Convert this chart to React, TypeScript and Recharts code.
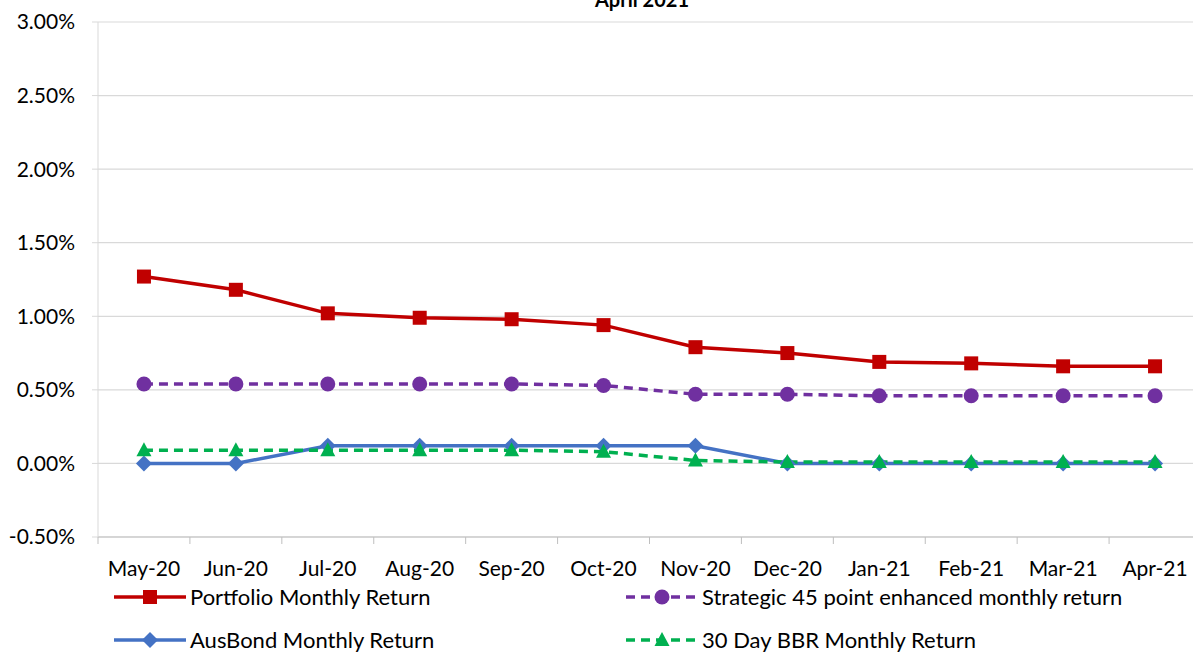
import React from "react";
import { LineChart, Line, XAxis, YAxis, CartesianGrid } from "recharts";

const months = ["May-20", "Jun-20", "Jul-20", "Aug-20", "Sep-20", "Oct-20", "Nov-20", "Dec-20", "Jan-21", "Feb-21", "Mar-21", "Apr-21"];
const portfolio = [1.27, 1.18, 1.02, 0.99, 0.98, 0.94, 0.79, 0.75, 0.69, 0.68, 0.66, 0.66];
const strategic = [0.54, 0.54, 0.54, 0.54, 0.54, 0.53, 0.47, 0.47, 0.46, 0.46, 0.46, 0.46];
const ausbond = [0, 0, 0.12, 0.12, 0.12, 0.12, 0.12, 0, 0, 0, 0, 0];
const bbr = [0.09, 0.09, 0.09, 0.09, 0.09, 0.08, 0.02, 0.01, 0.01, 0.01, 0.01, 0.01];
const yTicks = [-0.5, 0, 0.5, 1.0, 1.5, 2.0, 2.5, 3.0];

const SERIES = [
  { key: "portfolio", name: "Portfolio Monthly Return", color: "#C00000", dash: undefined, shape: "square" },
  { key: "strategic", name: "Strategic 45 point enhanced monthly return", color: "#7030A0", dash: "9 6", shape: "circle" },
  { key: "ausbond", name: "AusBond Monthly Return", color: "#4472C4", dash: undefined, shape: "diamond" },
  { key: "bbr", name: "30 Day BBR Monthly Return", color: "#00B050", dash: "9 6", shape: "triangle" },
];

const data = months.map((m, i) => ({
  month: m,
  portfolio: portfolio[i],
  strategic: strategic[i],
  ausbond: ausbond[i],
  bbr: bbr[i],
}));

const FONT = "Lato, 'Open Sans', sans-serif";
const CHART_W = 1201;
const CHART_H = 653;
const Y_W = 98;
const PLOT_W = CHART_W - Y_W;
const STEP = PLOT_W / months.length;

function marker(shape: string, cx: number, cy: number, color: string, key?: any) {
  if (shape === "square") return <rect key={key} x={cx - 7} y={cy - 7} width={14} height={14} fill={color} />;
  if (shape === "circle") return <circle key={key} cx={cx} cy={cy} r={7.5} fill={color} />;
  if (shape === "diamond")
    return <polygon key={key} points={`${cx},${cy - 8} ${cx + 8},${cy} ${cx},${cy + 8} ${cx - 8},${cy}`} fill={color} />;
  return <polygon key={key} points={`${cx},${cy - 8} ${cx + 7.5},${cy + 6} ${cx - 7.5},${cy + 6}`} fill={color} />;
}

const makeDot = (shape: string, color: string) => (props: any) => {
  const { cx, cy, index } = props;
  if (cx == null || cy == null) return <g key={`d-${index}`} />;
  return marker(shape, cx, cy, color, `d-${shape}-${index}`);
};

const XTick = (props: any) => {
  const { x, y, payload, index } = props;
  const lx = x - STEP / 2;
  return (
    <g>
      <line x1={lx} y1={y} x2={lx} y2={y + 7} stroke="#bfbfbf" />
      {index === months.length - 1 && <line x1={x + STEP / 2} y1={y} x2={x + STEP / 2} y2={y + 7} stroke="#bfbfbf" />}
      <text x={x} y={y + 39} textAnchor="middle" fontSize={21} fontFamily={FONT} fill="#000">
        {payload.value}
      </text>
    </g>
  );
};

const LegendBlock = () => {
  const pos = [
    { left: 114, top: 597 },
    { left: 626, top: 597 },
    { left: 114, top: 640 },
    { left: 626, top: 640 },
  ];
  return (
    <>
      {SERIES.map((s, i) => (
        <div
          key={s.key}
          style={{ position: "absolute", left: pos[i].left, top: pos[i].top - 12, height: 24, display: "flex", alignItems: "center" }}
        >
          <svg width={72} height={24} style={{ display: "block" }}>
            <line x1={0} y1={12} x2={72} y2={12} stroke={s.color} strokeWidth={3.5} strokeDasharray={s.dash} />
            {marker(s.shape, 36, 12, s.color)}
          </svg>
          <span style={{ fontFamily: FONT, fontSize: 22, color: "#000", marginLeft: 4, whiteSpace: "nowrap", lineHeight: "24px" }}>
            {s.name}
          </span>
        </div>
      ))}
    </>
  );
};

export default function App() {
  return (
    <div style={{ position: "absolute", left: 0, top: 0, width: 1193, height: 653, overflow: "hidden", background: "#fff" }}>
      <div style={{ position: "absolute", left: 0, top: 0 }}>
        <LineChart width={CHART_W} height={CHART_H} data={data} margin={{ top: 22, right: 0, bottom: 0, left: 0 }}>
          <CartesianGrid horizontal vertical={false} stroke="#d9d9d9" strokeWidth={1.2} />
          <XAxis
            dataKey="month"
            scale="band"
            height={116}
            axisLine={{ stroke: "#bfbfbf" }}
            tickLine={false}
            tickSize={0}
            tickMargin={0}
            interval={0}
            tick={<XTick />}
          />
          <YAxis
            width={Y_W}
            domain={[-0.5, 3]}
            ticks={yTicks}
            allowDataOverflow
            tickFormatter={(v: number) => v.toFixed(2) + "%"}
            axisLine={{ stroke: "#d9d9d9" }}
            tickLine={{ stroke: "#d9d9d9" }}
            tickSize={6}
            tickMargin={17}
            tick={{ fill: "#000", fontSize: 21, fontFamily: FONT }}
          />
          {SERIES.map((s) => (
            <Line
              key={s.key}
              type="linear"
              dataKey={s.key}
              name={s.name}
              stroke={s.color}
              strokeWidth={3.5}
              strokeDasharray={s.dash}
              dot={makeDot(s.shape, s.color)}
              activeDot={false}
              isAnimationActive={false}
            />
          ))}
        </LineChart>
      </div>
      <div
        style={{
          position: "absolute",
          left: 0,
          width: 1284,
          top: -13,
          textAlign: "center",
          fontFamily: FONT,
          fontWeight: 700,
          fontSize: 20,
          lineHeight: "normal",
          color: "#000",
        }}
      >
        April 2021
      </div>
      <LegendBlock />
    </div>
  );
}
